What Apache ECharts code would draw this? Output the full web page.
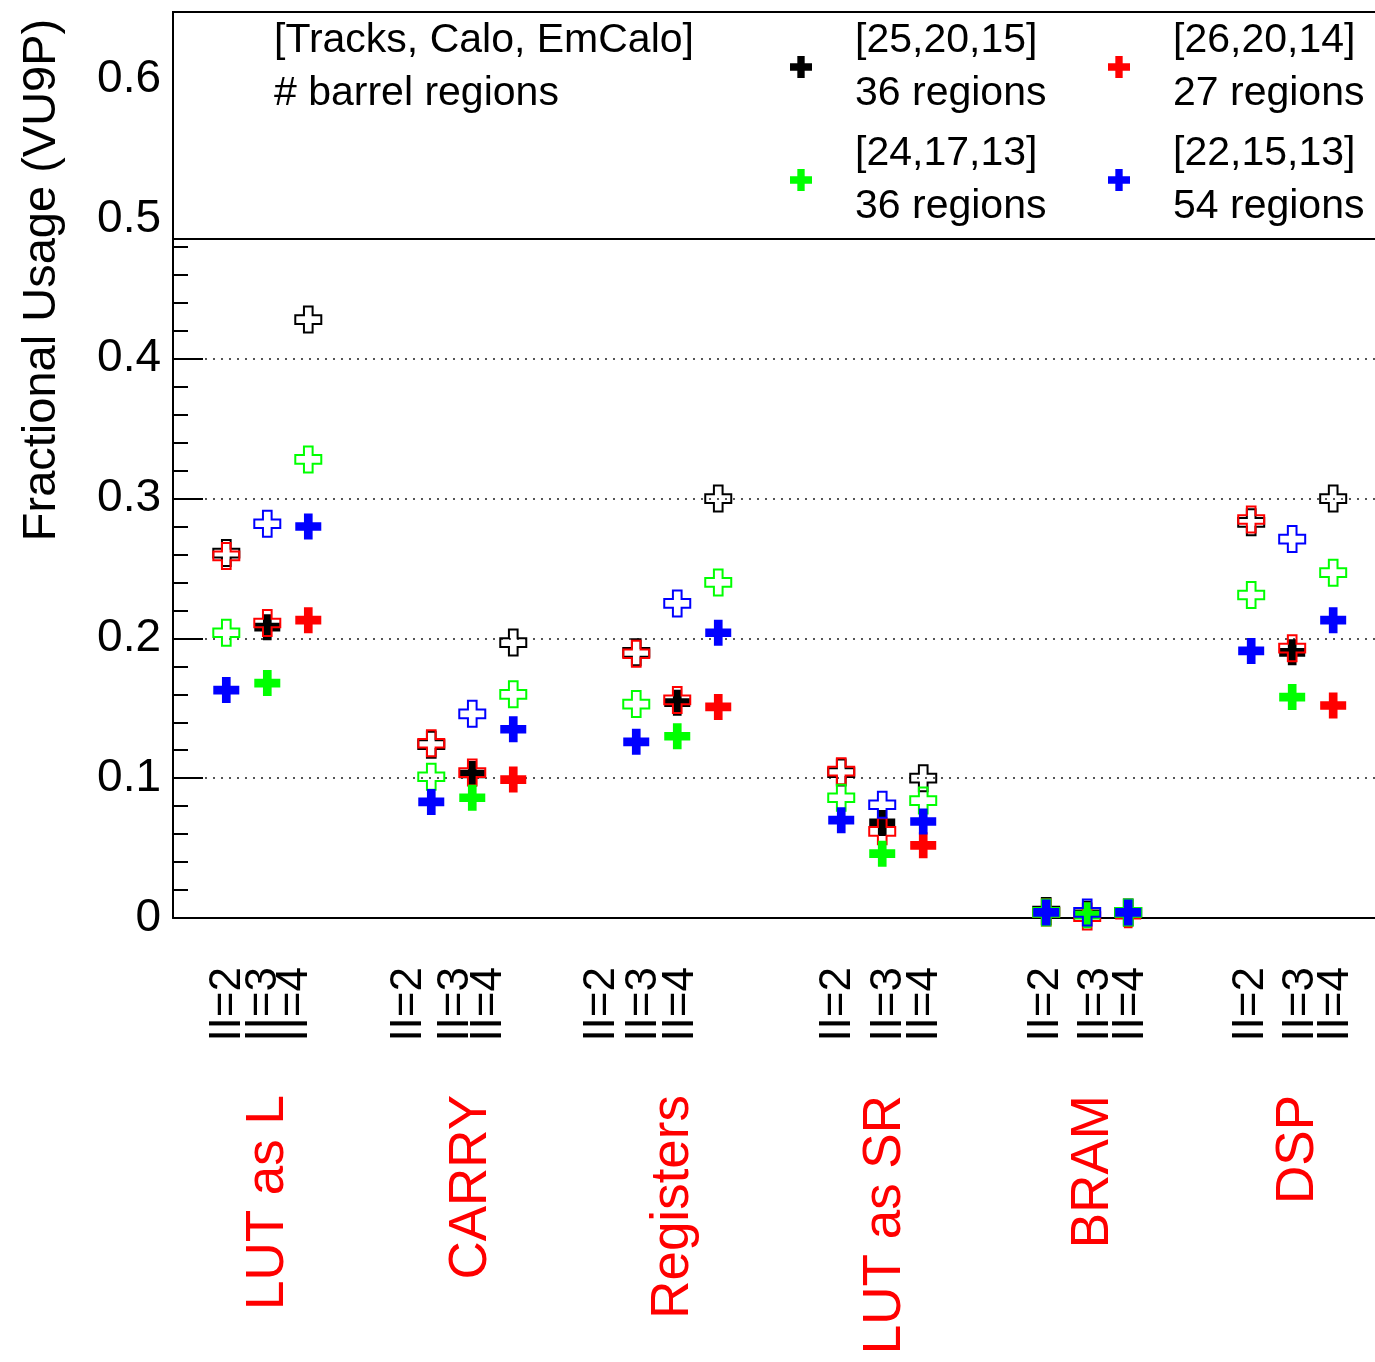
<!DOCTYPE html>
<html>
<head>
<meta charset="utf-8">
<script src="https://cdn.jsdelivr.net/npm/echarts@6/dist/echarts.min.js"></script>
<style>
  html, body { margin: 0; padding: 0; background: #fff; }
  #main { width: 1375px; height: 1362px; }
</style>
</head>
<body>
<div id="main"></div>
<script>
// resource groups and initiation intervals
const groups = ['LUT as L', 'CARRY', 'Registers', 'LUT as SR', 'BRAM', 'DSP'];
const iiLabels = ['II=2', 'II=3', 'II=4'];
const configNames = ['[25,20,15]', '[26,20,14]', '[24,17,13]', '[22,15,13]'];
const regionCounts = [36, 27, 36, 54];

// fractional usage, 3 values (II=2,3,4) per group
const usage2520 = [0.261, 0.208, 0.428,  0.124, 0.103, 0.197,  0.190, 0.154, 0.300,  0.104, 0.068, 0.100,  0.005, 0.003, 0.004,  0.283, 0.190, 0.300];
const usage2620 = [0.259, 0.211, 0.213,  0.125, 0.104, 0.099,  0.189, 0.156, 0.151,  0.105, 0.062, 0.052,  0.004, 0.001, 0.002,  0.285, 0.193, 0.152];
const usage2417 = [0.204, 0.168, 0.328,  0.101, 0.086, 0.160,  0.153, 0.130, 0.240,  0.086, 0.046, 0.084,  0.004, 0.002, 0.004,  0.231, 0.158, 0.247];
const usage2215 = [0.163, 0.282, 0.280,  0.083, 0.146, 0.135,  0.126, 0.225, 0.204,  0.070, 0.081, 0.069,  0.004, 0.004, 0.004,  0.191, 0.271, 0.213];
// open marker (true) or full marker (false) for II=2,3,4
const open2520 = [true, false, true];
const open2620 = [true, true, false];
const open2417 = [true, false, true];
const open2215 = [false, true, false];

const yTicks = [0, 0.1, 0.2, 0.3, 0.4, 0.5, 0.6];

// axis positions of the tick labels (units of one II step)
const iiLabelAt = [1.34, 2.22, 2.98, 5.76, 6.90, 7.71, 10.46, 11.49, 12.39, 16.22, 17.46, 18.34, 21.29, 22.51, 23.37, 26.29, 27.51, 28.37];
const groupLabelAt = [2.32, 7.29, 12.2, 17.37, 22.44, 27.44];
const xMax = 29.32;

const usages = [usage2520, usage2620, usage2417, usage2215];
const opens = [open2520, open2620, open2417, open2215];
const colors = ['#000000', '#ff0000', '#00ff00', '#0000ff'];
const cross = 'path://M1,0L2,0L2,1L3,1L3,2L2,2L2,3L1,3L1,2L0,2L0,1L1,1Z';
const font = 'Liberation Sans, Arial, Helvetica, sans-serif';

function findIdx(arr, v) {
  return arr.findIndex(a => Math.abs(a - v) < 1e-6);
}

const series = usages.map((vals, c) => ({
  name: configNames[c],
  type: 'scatter',
  symbol: cross,
  symbolSize: 26,
  itemStyle: { color: colors[c], opacity: 1 },
  emphasis: { disabled: true },
  data: vals.map((v, i) => {
    const g = Math.floor(i / 3), k = i % 3;
    const item = { value: [1.3 + 5 * g + k, v] };
    if (opens[c][k]) {
      item.itemStyle = { color: 'rgba(0,0,0,0)', borderColor: colors[c], borderWidth: 2 };
    }
    return item;
  })
}));

const legendBase = {
  icon: cross,
  orient: 'horizontal',
  width: 620,
  itemWidth: 22,
  itemHeight: 22,
  itemGap: 53,
  padding: 0,
  selectedMode: false,
  z: 5,
  formatter: name => name + '\n' + regionCounts[configNames.indexOf(name)] + ' regions',
  textStyle: { fontSize: 41, lineHeight: 53, color: '#000', fontFamily: font, padding: [0, 0, 0, 38], width: 200 }
};

const chart = echarts.init(document.getElementById('main'));
chart.setOption({
  animation: false,
  backgroundColor: '#fff',
  textStyle: { fontFamily: font },
  grid: { left: 173, top: 12, right: 0, bottom: 444, containLabel: false, outerBoundsMode: 'none' },
  title: {
    text: '[Tracks, Calo, EmCalo]\n# barrel regions',
    left: 274, top: 14, padding: 0, z: 5,
    textStyle: { fontSize: 41, lineHeight: 53, fontWeight: 'normal', color: '#000', fontFamily: font }
  },
  legend: [
    Object.assign({}, legendBase, { data: [configNames[0], configNames[1]], left: 790, top: 14 }),
    Object.assign({}, legendBase, { data: [configNames[2], configNames[3]], left: 790, top: 127 })
  ],
  graphic: [{
    type: 'rect', z: 3,
    shape: { x: 173, y: 12, width: 1230, height: 227 },
    style: { fill: '#fff', stroke: '#000', lineWidth: 2 }
  }],
  xAxis: [{
    type: 'value', min: 0, max: xMax, position: 'bottom',
    axisLine: { show: true, lineStyle: { color: '#000', width: 2 } },
    axisTick: { show: false },
    splitLine: { show: false },
    axisLabel: {
      // blank labels at both ends keep the outer II labels from being dropped
      customValues: [0].concat(iiLabelAt, [xMax]),
      rotate: 90, fontSize: 44, margin: 49, color: '#000', fontFamily: font,
      hideOverlap: false,
      formatter: v => { const i = findIdx(iiLabelAt, v); return i < 0 ? '' : iiLabels[i % 3]; }
    }
  }, {
    type: 'value', min: 0, max: xMax, position: 'bottom',
    axisLine: { show: false },
    axisTick: { show: false },
    splitLine: { show: false },
    axisLabel: {
      customValues: groupLabelAt, rotate: 90, fontSize: 53, margin: 177, color: '#ff0000', fontFamily: font,
      showMinLabel: true, showMaxLabel: true, hideOverlap: false,
      formatter: v => { const i = findIdx(groupLabelAt, v); return i < 0 ? '' : groups[i]; }
    }
  }],
  yAxis: {
    type: 'value', min: 0, max: 0.648, interval: 0.1,
    axisLine: { show: true, lineStyle: { color: '#000', width: 2 } },
    axisTick: { show: true, inside: true, length: 30, lineStyle: { color: '#000', width: 2 } },
    minorTick: { show: true, splitNumber: 5, length: 15, lineStyle: { color: '#000', width: 2 } },
    splitLine: { show: true, lineStyle: { color: '#555', type: [2, 6], width: 2 } },
    axisLabel: {
      fontSize: 46, color: '#000', margin: 12, fontFamily: font,
      formatter: v => { const i = findIdx(yTicks, v); return i < 0 ? '' : String(yTicks[i]); }
    },
    name: 'Fractional Usage (VU9P)',
    nameLocation: 'middle', nameGap: 107, nameRotate: 90, nameMoveOverlap: false,
    nameTextStyle: { fontSize: 47, color: '#000', fontFamily: font, padding: [0, 0, 0, 370] }
  },
  series: series
});
</script>
</body>
</html>
